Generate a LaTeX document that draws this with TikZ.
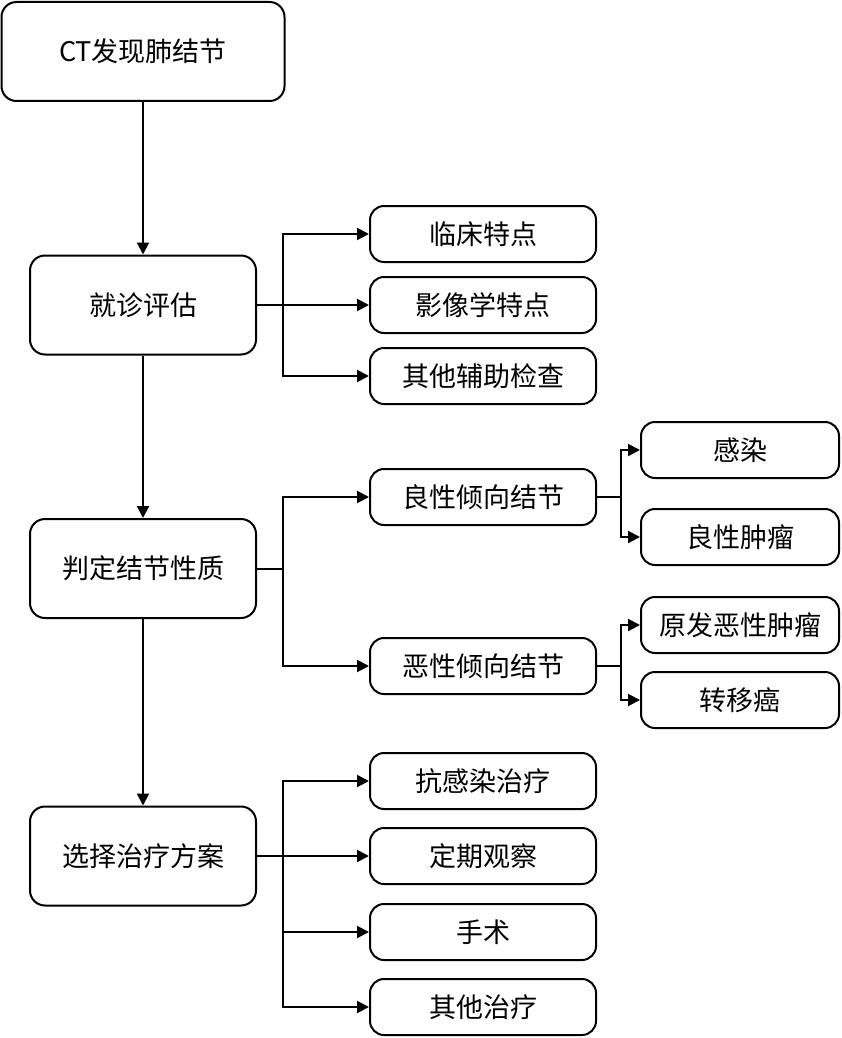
\documentclass[tikz,border=0pt]{standalone}
\usepackage{fontspec}
\setmainfont{Noto Sans CJK SC}
\usepackage{tikz}
\usetikzlibrary{arrows.meta,positioning,calc}
\definecolor{boxline}{HTML}{000000}
\tikzset{
  mainbox/.style={draw=boxline, fill=white, line width=2pt, rounded corners=15pt, align=center, minimum width=226pt, minimum height=99pt, inner sep=0pt},
  subbox/.style={draw=boxline, fill=white, line width=2pt, rounded corners=14pt, align=center, minimum width=226pt, minimum height=56pt, inner sep=0pt},
  leafbox/.style={draw=boxline, fill=white, line width=2pt, rounded corners=14pt, align=center, minimum width=198pt, minimum height=56pt, inner sep=0pt},
  arrow/.style={-{Triangle[length=12pt,width=12pt]}, line width=2pt, draw=boxline}
}

\begin{document}
\begin{tikzpicture}[x=1pt, y=-1pt, font=\fontsize{27}{32}\selectfont]
  \useasboundingbox (0,0) rectangle (841,1038);

  \node[mainbox, minimum width=283pt] (ct) at (143,51.5) {CT发现肺结节};
  \node[mainbox] (eval) at (143,305) {就诊评估};
  \node[mainbox] (judge) at (143,568.5) {判定结节性质};
  \node[mainbox] (treat) at (143,856) {选择治疗方案};

  \node[subbox] (clin) at (483,234) {临床特点};
  \node[subbox] (image) at (483,305) {影像学特点};
  \node[subbox] (aux) at (483,376) {其他辅助检查};

  \node[subbox] (benign) at (483,497) {良性倾向结节};
  \node[subbox] (malig) at (483,666) {恶性倾向结节};

  \node[subbox] (anti) at (483,781) {抗感染治疗};
  \node[subbox] (watch) at (483,856) {定期观察};
  \node[subbox] (surg) at (483,932) {手术};
  \node[subbox] (other) at (483,1007) {其他治疗};

  \node[leafbox] (infect) at (740,450) {感染};
  \node[leafbox] (btumor) at (740,537) {良性肿瘤};
  \node[leafbox] (primary) at (740,625) {原发恶性肿瘤};
  \node[leafbox] (meta) at (740,700) {转移癌};

  \draw[arrow] (ct.south) -- (eval.north);
  \draw[arrow] (eval.south) -- (judge.north);
  \draw[arrow] (judge.south) -- (treat.north);

  \draw[arrow] (eval.east) -- ++(26,0) |- (clin.west);
  \draw[arrow] (eval.east) -- (image.west);
  \draw[arrow] (eval.east) -- ++(26,0) |- (aux.west);

  \draw[arrow] (judge.east) -- ++(26,0) |- (benign.west);
  \draw[arrow] (judge.east) -- ++(26,0) |- (malig.west);

  \draw[arrow] (treat.east) -- ++(26,0) |- (anti.west);
  \draw[arrow] (treat.east) -- (watch.west);
  \draw[arrow] (treat.east) -- ++(26,0) |- (surg.west);
  \draw[arrow] (treat.east) -- ++(26,0) |- (other.west);

  \draw[arrow] (benign.east) -- ++(24,0) |- (infect.west);
  \draw[arrow] (benign.east) -- ++(24,0) |- (btumor.west);
  \draw[arrow] (malig.east) -- ++(24,0) |- (primary.west);
  \draw[arrow] (malig.east) -- ++(24,0) |- (meta.west);
\end{tikzpicture}
\end{document}
